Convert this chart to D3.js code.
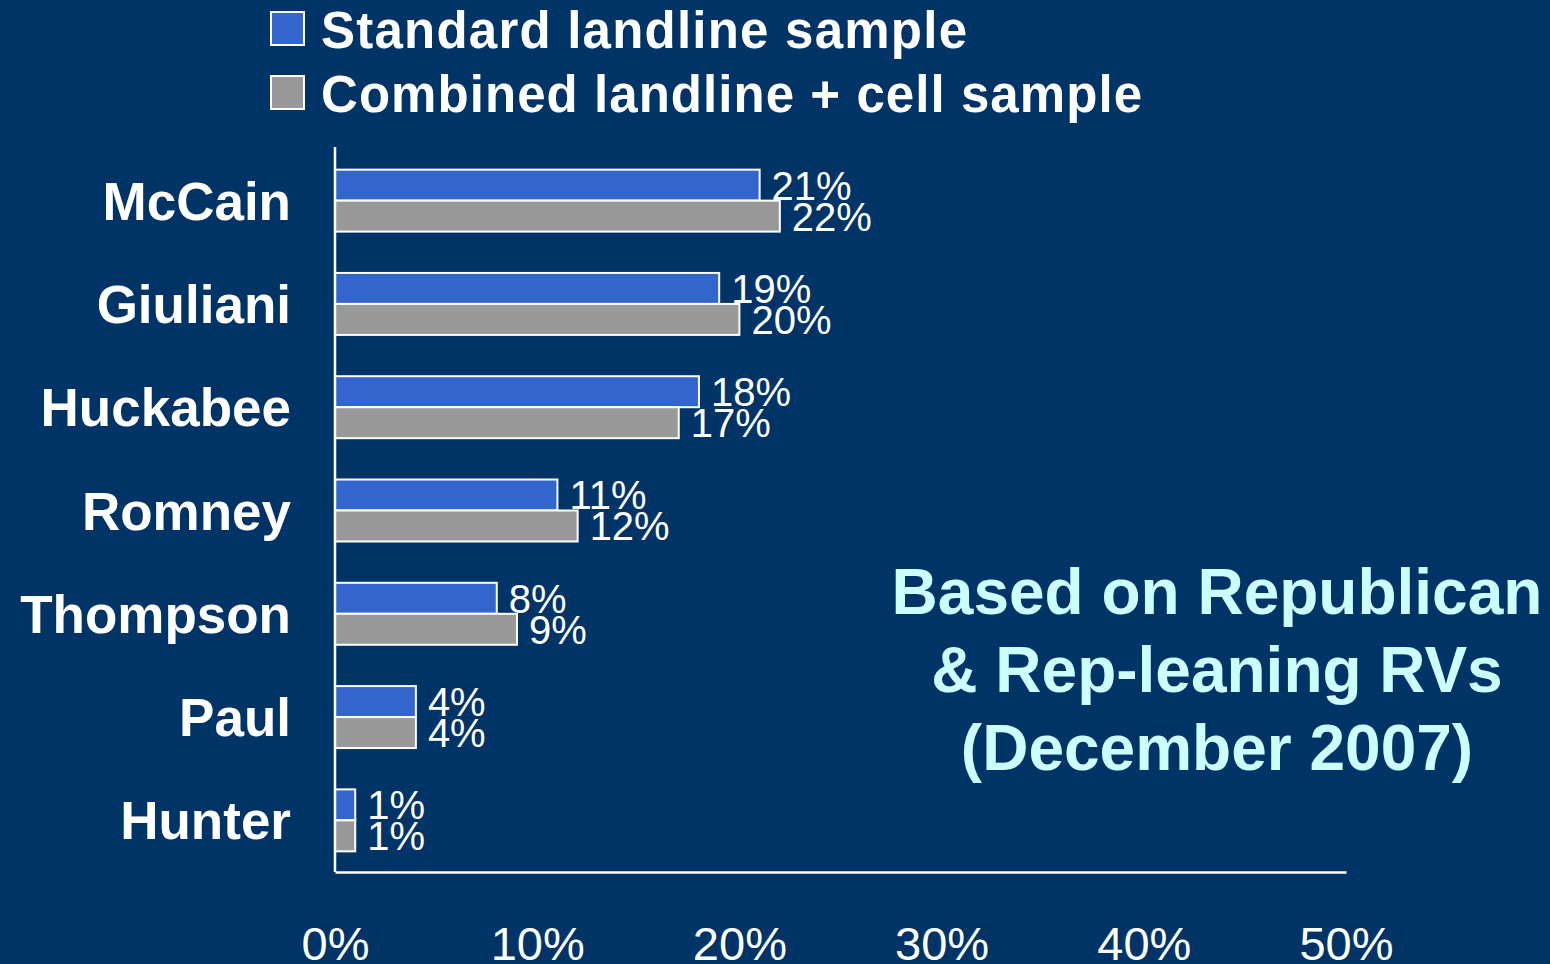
<!DOCTYPE html>
<html>
<head>
<meta charset="utf-8">
<script src="https://cdn.jsdelivr.net/npm/d3@7"></script>
<style>
  html, body { margin: 0; padding: 0; background: #003366; overflow: hidden; }
  svg { display: block; }
  text { font-family: "Liberation Sans", Arial, sans-serif; }
</style>
</head>
<body>
<svg id="chart" width="1550" height="964"></svg>
<script>
const categories = ["McCain", "Giuliani", "Huckabee", "Romney", "Thompson", "Paul", "Hunter"];
const standardLandline = [21, 19, 18, 11, 8, 4, 1];
const combinedLandlineCell = [22, 20, 17, 12, 9, 4, 1];
const seriesNames = ["Standard landline sample", "Combined landline + cell sample"];
const tickValues = [0, 10, 20, 30, 40, 50];
const annotationLines = ["Based on Republican", "& Rep-leaning RVs", "(December 2007)"];

const W = 1550, H = 964;
const svg = d3.select("#chart");
svg.append("rect").attr("width", W).attr("height", H).attr("fill", "#003366");

const colors = ["#3366CC", "#999999"];
const series = [standardLandline, combinedLandlineCell];

const x = d3.scaleLinear().domain([0, 50]).range([335, 1346]);
const y = d3.scaleBand().domain(categories).range([149, 872]).paddingInner(0.4).paddingOuter(0.2);
const sub = d3.scaleBand().domain([0, 1]).range([0, y.bandwidth()]);

// bars
series.forEach((vals, si) => {
  const g = svg.append("g");
  g.selectAll("rect").data(categories).join("rect")
    .attr("x", x(0))
    .attr("y", (c) => y(c) + sub(si))
    .attr("width", (c, i) => x(vals[i]) - x(0))
    .attr("height", sub.bandwidth())
    .attr("fill", colors[si])
    .attr("stroke", "#ffffff")
    .attr("stroke-width", 2);
  g.selectAll("text").data(categories).join("text")
    .attr("x", (c, i) => x(vals[i]) + 12)
    .attr("y", (c) => y(c) + sub(si) + sub.bandwidth() / 2)
    .attr("dy", "0.36em")
    .attr("fill", "#ffffff")
    .attr("font-size", 40)
    .text((c, i) => vals[i] + "%");
});

// axes lines
const xAxis = d3.axisBottom(x).tickValues(tickValues).tickFormat(d => d + "%").tickSize(0).tickPadding(0);
const gx = svg.append("g").attr("transform", "translate(0,872)").call(xAxis);
gx.select(".domain").attr("stroke", "#ffffff").attr("stroke-width", 2.5);
gx.selectAll("text").attr("fill", "#ffffff").attr("font-size", 47)
  .attr("font-family", '"Liberation Sans", Arial, sans-serif')
  .attr("y", 88).attr("dy", 0);

const yAxis = d3.axisLeft(y).tickSize(0).tickPadding(44);
const gy = svg.append("g").attr("transform", "translate(335,0)").call(yAxis);
gy.select(".domain").attr("stroke", "#ffffff").attr("stroke-width", 2.5)
  .attr("d", "M0,147V872");
gy.selectAll("text").attr("fill", "#ffffff").attr("font-size", 53).attr("font-weight", "bold")
  .attr("font-family", '"Liberation Sans", Arial, sans-serif')
  .attr("dy", "0.36em");

// legend
const legendWidths = [646, 821];
const legend = svg.append("g");
seriesNames.forEach((name, i) => {
  const yy = 12 + i * 64;
  legend.append("rect").attr("x", 271).attr("y", yy).attr("width", 33).attr("height", 33)
    .attr("fill", colors[i]).attr("stroke", "#ffffff").attr("stroke-width", 2);
  legend.append("text").attr("x", 321).attr("y", yy + 36)
    .attr("fill", "#ffffff").attr("font-size", 51).attr("font-weight", "bold")
    .attr("textLength", legendWidths[i]).attr("lengthAdjust", "spacing")
    .text(name);
});

// annotation
const ann = svg.append("text").attr("fill", "#CCFFFF").attr("font-weight", "bold")
  .attr("font-size", 64).attr("text-anchor", "middle");
annotationLines.forEach((t, i) => {
  ann.append("tspan").attr("x", 1217).attr("y", 614 + i * 78).text(t);
});
</script>
</body>
</html>
